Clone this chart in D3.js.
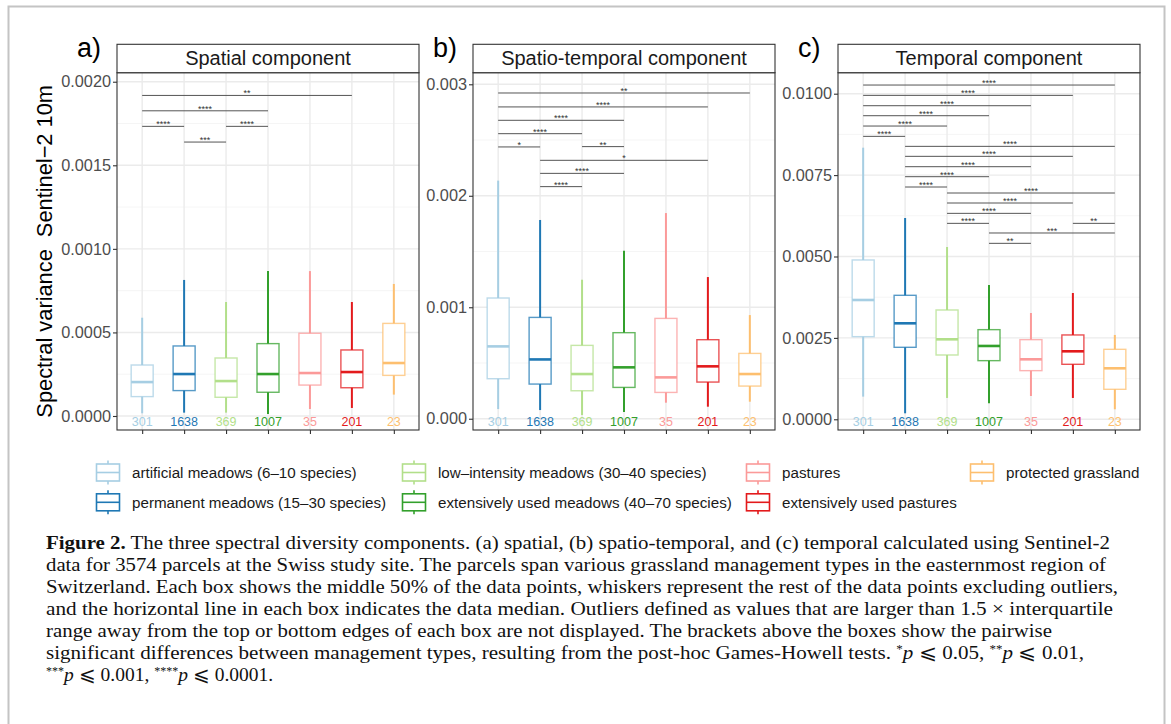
<!DOCTYPE html>
<html>
<head>
<meta charset="utf-8">
<script src="https://cdn.jsdelivr.net/npm/d3@7"></script>
<style>
  body { margin: 0; background: #fff; }
  svg { display: block; }
</style>
</head>
<body>
<svg width="1171" height="724"></svg>
<script>
// management types, counts and colours
var categories = ["artificial meadows (6\u201310 species)", "permanent meadows (15\u201330 species)",
  "low\u2013intensity meadows (30\u201340 species)", "extensively used meadows (40\u201370 species)",
  "pastures", "extensively used pastures", "protected grassland"];
var counts = [301, 1638, 369, 1007, 35, 201, 23];
var colors = ["#a6cee3", "#1f78b4", "#b2df8a", "#33a02c", "#fb9a99", "#e31a1c", "#fdbf6f"];

// (a) spatial component
var spatialLow  = [0.000016, 0.000020, 0.000020, 0.000012, 0.000042, 0.000048, 0.000128];
var spatialQ1   = [0.000116, 0.000152, 0.000112, 0.000142, 0.000185, 0.000169, 0.000243];
var spatialMed  = [0.000203, 0.000251, 0.000209, 0.000251, 0.000257, 0.000263, 0.000317];
var spatialQ3   = [0.000305, 0.000419, 0.000347, 0.000433, 0.000495, 0.000395, 0.000554];
var spatialHigh = [0.000588, 0.000814, 0.000682, 0.000867, 0.000867, 0.000682, 0.000790];
var spatialTicks = [0, 0.0005, 0.0010, 0.0015, 0.0020];
var spatialBrackets = [[1, 6, 0.001918, "**"], [1, 4, 0.001826, "****"], [1, 2, 0.001733, "****"],
  [3, 4, 0.001733, "****"], [2, 3, 0.001639, "***"]];

// (b) spatio-temporal component
var spatioLow  = [0.000087, 0.000078, 0.000033, 0.000060, 0.000144, 0.000108, 0.000153];
var spatioQ1   = [0.000359, 0.000311, 0.000251, 0.000281, 0.000236, 0.000329, 0.000293];
var spatioMed  = [0.000649, 0.000532, 0.000401, 0.000461, 0.000371, 0.000470, 0.000401];
var spatioQ3   = [0.001083, 0.000909, 0.000658, 0.000772, 0.000900, 0.000709, 0.000586];
var spatioHigh = [0.002136, 0.001783, 0.001247, 0.001507, 0.001845, 0.001271, 0.000930];
var spatioTicks = [0, 0.001, 0.002, 0.003];
var spatioBrackets = [[1, 7, 0.002922, "**"], [1, 6, 0.002797, "****"], [1, 4, 0.002677, "****"],
  [1, 3, 0.002557, "****"], [1, 2, 0.002438, "*"], [3, 4, 0.002441, "**"], [2, 6, 0.002318, "*"],
  [2, 4, 0.002201, "****"], [2, 3, 0.002082, "****"]];

// (c) temporal component
var temporalLow  = [0.000696, 0.000184, 0.000655, 0.000491, 0.000716, 0.000655, 0.000307];
var temporalQ1   = [0.002538, 0.002211, 0.001975, 0.001801, 0.001494, 0.001689, 0.000921];
var temporalMed  = [0.003664, 0.002948, 0.002456, 0.002252, 0.001842, 0.002088, 0.001566];
var temporalQ3   = [0.004893, 0.003808, 0.003357, 0.002753, 0.002446, 0.002590, 0.002149];
var temporalHigh = [0.008342, 0.006182, 0.005292, 0.004125, 0.003265, 0.003879, 0.002590];
var temporalTicks = [0, 0.0025, 0.0050, 0.0075, 0.0100];
var temporalBrackets = [[1, 7, 0.010266, "****"], [1, 6, 0.009949, "****"], [1, 5, 0.009631, "****"],
  [1, 4, 0.009324, "****"], [1, 3, 0.009007, "****"], [1, 2, 0.008690, "****"],
  [2, 7, 0.008383, "****"], [2, 6, 0.008076, "****"], [2, 5, 0.007758, "****"],
  [2, 4, 0.007451, "****"], [2, 3, 0.007134, "****"], [3, 7, 0.006950, "****"],
  [3, 6, 0.006643, "****"], [3, 5, 0.006325, "****"], [3, 4, 0.006018, "****"],
  [6, 7, 0.006018, "**"], [4, 7, 0.005722, "***"], [4, 5, 0.005404, "**"]];

var captionLines = [
  " The three spectral diversity components. (a) spatial, (b) spatio-temporal, and (c) temporal calculated using Sentinel-2",
  "data for 3574 parcels at the Swiss study site. The parcels span various grassland management types in the easternmost region of",
  "Switzerland. Each box shows the middle 50% of the data points, whiskers represent the rest of the data points excluding outliers,",
  "and the horizontal line in each box indicates the data median. Outliers defined as values that are larger than 1.5 \u00d7 interquartile",
  "range away from the top or bottom edges of each box are not displayed. The brackets above the boxes show the pairwise",
  "significant differences between management types, resulting from the post-hoc Games-Howell tests. "
];

var svg = d3.select("svg"),
    sans = "'Liberation Sans', Arial, Helvetica, sans-serif",
    serif = "'Liberation Serif', 'Times New Roman', serif",
    plotTop = 72.7, plotBottom = 430, stripTop = 44.3,
    panelW = 302, plotH = plotBottom - plotTop;

// outer frame of the figure
svg.append("rect")
    .attr("x", 8.5).attr("y", 6.5)
    .attr("width", 1156).attr("height", 740)
    .attr("fill", "none").attr("stroke", "#c4c4c4").attr("stroke-width", 2);

var panels = [
  {tag: "a)", title: "Spatial component", left: 117, domain: [-0.0000838, 0.002054], fmt: ".4f",
   low: spatialLow, q1: spatialQ1, med: spatialMed, q3: spatialQ3, high: spatialHigh,
   ticks: spatialTicks, brackets: spatialBrackets},
  {tag: "b)", title: "Spatio-temporal component", left: 473, domain: [-0.000101, 0.003104], fmt: ".3f",
   low: spatioLow, q1: spatioQ1, med: spatioMed, q3: spatioQ3, high: spatioHigh,
   ticks: spatioTicks, brackets: spatioBrackets},
  {tag: "c)", title: "Temporal component", left: 838, domain: [-0.000329, 0.010645], fmt: ".4f",
   low: temporalLow, q1: temporalQ1, med: temporalMed, q3: temporalQ3, high: temporalHigh,
   ticks: temporalTicks, brackets: temporalBrackets}
];

var x = d3.scalePoint().domain(d3.range(1, 8)).range([0, panelW]).padding(0.6);

function drawPanel(p) {
  var y = d3.scaleLinear().domain(p.domain).range([plotH, 0]);
  var g = svg.append("g").attr("transform", "translate(" + p.left + "," + plotTop + ")");
  var step = p.ticks[1] - p.ticks[0];
  var minor = p.ticks.map(function(t) { return t + step / 2; })
      .filter(function(t) { return y(t) > 0; });

  // grid
  g.selectAll(".minor").data(minor).enter().append("line")
      .attr("x1", 0).attr("x2", panelW)
      .attr("y1", y).attr("y2", y)
      .attr("stroke", "#f2f2f2").attr("stroke-width", 0.8);
  g.selectAll(".major").data(p.ticks).enter().append("line")
      .attr("x1", 0).attr("x2", panelW)
      .attr("y1", y).attr("y2", y)
      .attr("stroke", "#ebebeb").attr("stroke-width", 1.4);
  g.selectAll(".vgrid").data(d3.range(1, 8)).enter().append("line")
      .attr("x1", x).attr("x2", x)
      .attr("y1", 0).attr("y2", plotH)
      .attr("stroke", "#ebebeb").attr("stroke-width", 1.4);

  // significance brackets
  var br = g.selectAll(".br").data(p.brackets).enter().append("g");
  br.append("line")
      .attr("x1", function(d) { return x(d[0]); })
      .attr("x2", function(d) { return x(d[1]); })
      .attr("y1", function(d) { return y(d[2]); })
      .attr("y2", function(d) { return y(d[2]); })
      .attr("stroke", "#555").attr("stroke-width", 1);
  br.append("text")
      .attr("x", function(d) { return (x(d[0]) + x(d[1])) / 2; })
      .attr("y", function(d) { return y(d[2]) + 1; })
      .attr("text-anchor", "middle")
      .attr("font-family", sans).attr("font-size", 9).attr("fill", "#333")
      .text(function(d) { return d[3]; });

  // boxes
  var idx = d3.range(7);
  var box = g.selectAll(".box").data(idx).enter().append("g");
  box.append("line")
      .attr("x1", function(i) { return x(i + 1); })
      .attr("x2", function(i) { return x(i + 1); })
      .attr("y1", function(i) { return y(p.low[i]); })
      .attr("y2", function(i) { return y(p.high[i]); })
      .attr("stroke", function(i) { return colors[i]; })
      .attr("stroke-width", 2);
  box.append("rect")
      .attr("x", function(i) { return x(i + 1) - 11; })
      .attr("y", function(i) { return y(p.q3[i]); })
      .attr("width", 22)
      .attr("height", function(i) { return y(p.q1[i]) - y(p.q3[i]); })
      .attr("fill", "#fff")
      .attr("stroke", function(i) { return colors[i]; })
      .attr("stroke-opacity", 0.75)
      .attr("stroke-width", 1.4);
  box.append("line")
      .attr("x1", function(i) { return x(i + 1) - 11; })
      .attr("x2", function(i) { return x(i + 1) + 11; })
      .attr("y1", function(i) { return y(p.med[i]); })
      .attr("y2", function(i) { return y(p.med[i]); })
      .attr("stroke", function(i) { return colors[i]; })
      .attr("stroke-width", 2.6);

  // group sizes
  g.selectAll(".n").data(idx).enter().append("text")
      .attr("x", function(i) { return x(i + 1); })
      .attr("y", plotH - 4)
      .attr("text-anchor", "middle")
      .attr("font-family", sans).attr("font-size", 12.5)
      .attr("fill", function(i) { return colors[i]; })
      .text(function(i) { return counts[i]; });

  // panel border
  g.append("rect")
      .attr("width", panelW).attr("height", plotH)
      .attr("fill", "none").attr("stroke", "#333").attr("stroke-width", 1.1);

  // axes
  var ya = g.append("g")
      .call(d3.axisLeft(y).tickValues(p.ticks).tickFormat(d3.format(p.fmt)).tickSize(4).tickPadding(2));
  var xa = g.append("g").attr("transform", "translate(0," + plotH + ")")
      .call(d3.axisBottom(x).tickSize(4).tickFormat(""));
  [ya, xa].forEach(function(a) {
    a.select(".domain").remove();
    a.selectAll(".tick line").attr("stroke", "#333").attr("stroke-width", 1.1);
    a.selectAll("text").attr("fill", "#4d4d4d").attr("font-size", 16.3).attr("font-family", sans);
  });

  // strip
  svg.append("rect")
      .attr("x", p.left).attr("y", stripTop)
      .attr("width", panelW).attr("height", plotTop - stripTop)
      .attr("fill", "#fff").attr("stroke", "#333").attr("stroke-width", 1.1);
  svg.append("text")
      .attr("x", p.left + panelW / 2).attr("y", stripTop + 21)
      .attr("text-anchor", "middle")
      .attr("font-family", sans).attr("font-size", 20).attr("fill", "#1a1a1a")
      .text(p.title);
  svg.append("text")
      .attr("x", p.left - 40).attr("y", 57)
      .attr("font-family", sans).attr("font-size", 27).attr("fill", "#000")
      .text(p.tag);
}

panels.forEach(drawPanel);

// y axis title
svg.append("text")
    .attr("transform", "translate(52," + ((plotTop + plotBottom) / 2) + ") rotate(-90)")
    .attr("text-anchor", "middle")
    .attr("font-family", sans).attr("font-size", 21.8).attr("fill", "#000")
    .style("white-space", "pre")
    .text("Spectral variance  Sentinel\u22122 10m");

// legend
var legendCols = [96, 402, 746, 970], legendRows = [472.5, 502.3];
var leg = svg.selectAll(".leg").data(d3.range(7)).enter().append("g")
    .attr("transform", function(i) {
      return "translate(" + legendCols[Math.floor(i / 2)] + "," + legendRows[i % 2] + ")";
    });
leg.append("line")
    .attr("x1", 12).attr("x2", 12).attr("y1", -12).attr("y2", 12)
    .attr("stroke", function(i) { return colors[i]; }).attr("stroke-width", 1.6);
leg.append("rect")
    .attr("x", 0.5).attr("y", -8.5).attr("width", 23).attr("height", 17)
    .attr("fill", "#fff")
    .attr("stroke", function(i) { return colors[i]; }).attr("stroke-width", 1.6);
leg.append("line")
    .attr("x1", 0.5).attr("x2", 23.5).attr("y1", 0).attr("y2", 0)
    .attr("stroke", function(i) { return colors[i]; }).attr("stroke-width", 1.6);
leg.append("text")
    .attr("x", 36).attr("y", 5.5)
    .attr("font-family", sans).attr("font-size", 15.2).attr("fill", "#1a1a1a")
    .text(function(i) { return categories[i]; });

// caption
var capLeft = 46, capRight = [1110, 1106, 1118, 1113, 1052, 1084];
var cap = svg.append("g").attr("font-family", serif).attr("font-size", 19.5).attr("fill", "#111");
captionLines.forEach(function(line, i) {
  var t = cap.append("text")
      .attr("x", capLeft).attr("y", 549 + i * 22)
      .attr("textLength", capRight[i] - capLeft)
      .attr("lengthAdjust", "spacingAndGlyphs")
      .style("white-space", "pre");
  if (i === 0) t.append("tspan").attr("font-weight", "bold").text("Figure 2.");
  t.append("tspan").text(line);
  if (i === 5) {
    t.append("tspan").attr("font-size", 12).attr("dy", -6).text("*");
    t.append("tspan").attr("font-style", "italic").attr("dy", 6).text("p");
    t.append("tspan").text(" \u2A7D 0.05, ");
    t.append("tspan").attr("font-size", 12).attr("dy", -6).text("**");
    t.append("tspan").attr("font-style", "italic").attr("dy", 6).text("p");
    t.append("tspan").text(" \u2A7D 0.01,");
  }
});
var last = cap.append("text").attr("x", capLeft).attr("y", 549 + 6 * 22).style("white-space", "pre");
last.append("tspan").attr("font-size", 12).attr("dy", -6).text("***");
last.append("tspan").attr("font-style", "italic").attr("dy", 6).text("p");
last.append("tspan").text(" \u2A7D 0.001, ");
last.append("tspan").attr("font-size", 12).attr("dy", -6).text("****");
last.append("tspan").attr("font-style", "italic").attr("dy", 6).text("p");
last.append("tspan").text(" \u2A7D 0.0001.");
</script>
</body>
</html>
